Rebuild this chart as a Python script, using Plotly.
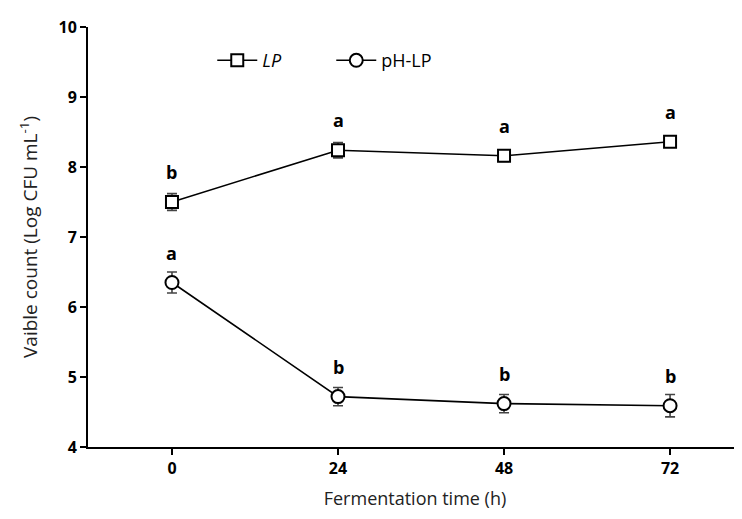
import plotly.graph_objects as go

time_h = [0, 24, 48, 72]
lp_vals = [7.50, 8.24, 8.16, 8.36]
lp_err = [0.12, 0.11, 0.08, 0.05]
lp_letters = ["b", "a", "a", "a"]
ph_vals = [6.35, 4.72, 4.62, 4.59]
ph_err = [0.15, 0.13, 0.13, 0.16]
ph_letters = ["a", "b", "b", "b"]

font_family = "Open Sans, Noto Sans, DejaVu Sans, sans-serif"

fig = go.Figure()
fig.add_trace(go.Scatter(
    x=time_h, y=lp_vals, name="<i>LP</i>", mode="lines+markers",
    line=dict(color="black", width=1.6),
    marker=dict(symbol="square", size=12, color="white", line=dict(color="black", width=2)),
    error_y=dict(type="data", array=lp_err, color="#444444", thickness=1.6, width=5),
))
fig.add_trace(go.Scatter(
    x=time_h, y=ph_vals, name="pH-LP", mode="lines+markers",
    line=dict(color="black", width=1.6),
    marker=dict(symbol="circle", size=13, color="white", line=dict(color="black", width=2)),
    error_y=dict(type="data", array=ph_err, color="#444444", thickness=1.6, width=5),
))

for xs, ys, letters in [(time_h, lp_vals, lp_letters), (time_h, ph_vals, ph_letters)]:
    for xv, yv, t in zip(xs, ys, letters):
        fig.add_annotation(x=xv, y=yv, text=t, showarrow=False, yshift=30,
                           font=dict(family=font_family, size=18, color="black", weight="bold"))

fig.update_layout(
    width=742, height=519,
    margin=dict(l=80, r=8, t=13, b=80),
    paper_bgcolor="white", plot_bgcolor="white",
    font=dict(family=font_family, color="black"),
    showlegend=True,
    legend=dict(orientation="h", x=0.19, y=0.92, xanchor="left", yanchor="middle",
                font=dict(size=18, family=font_family, color="black"),
                bgcolor="rgba(0,0,0,0)", itemwidth=40, tracegroupgap=0,
                entrywidthmode="pixels", entrywidth=64),
)
fig.update_xaxes(
    range=[-12.14, 82.4], tickvals=time_h, ticktext=[str(v) for v in time_h],
    showline=True, linecolor="black", linewidth=2, ticks="outside", ticklen=6,
    tickwidth=1.5, tickcolor="black", showgrid=False, zeroline=False,
    tickfont=dict(size=16, weight="bold", family=font_family, color="black"),
    title=dict(text="Fermentation time (h)", font=dict(size=18, family=font_family, color="#222222"), standoff=14),
)
fig.update_yaxes(
    range=[4, 10], tickvals=[4, 5, 6, 7, 8, 9, 10],
    showline=True, linecolor="black", linewidth=2, ticks="outside", ticklen=6,
    tickwidth=1.5, tickcolor="black", showgrid=False, zeroline=False,
    tickfont=dict(size=16, weight="bold", family=font_family, color="black"),
    title=dict(text="Vaible count (Log CFU mL<sup>-1</sup>)", font=dict(size=19, family=font_family, color="#222222"), standoff=16),
)

fig.write_html("out.html")
